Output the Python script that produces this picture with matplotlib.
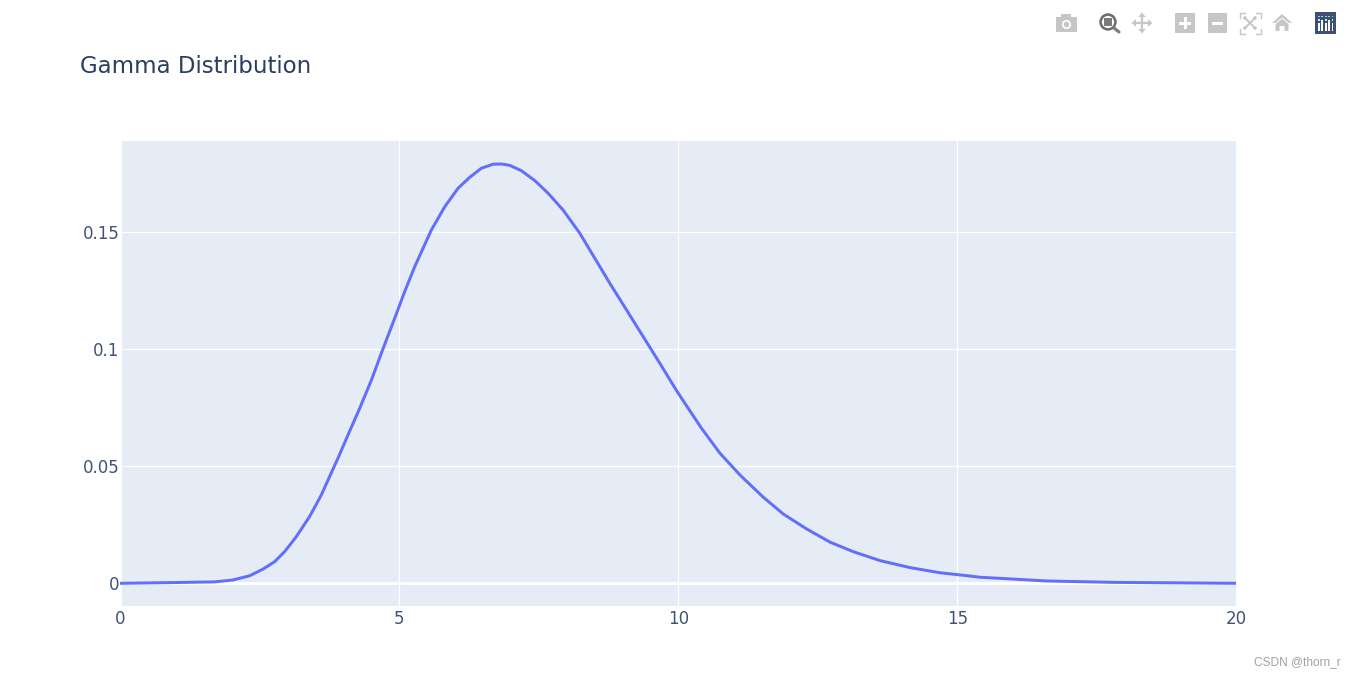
import matplotlib
matplotlib.use("Agg")
import matplotlib.pyplot as plt
from matplotlib.patches import Circle, FancyArrow, Polygon, Rectangle

x_values = [0, 0.9, 1.686, 2.014, 2.314, 2.552, 2.762, 2.942, 3.152, 3.39, 3.6, 3.749, 3.898,
            4.108, 4.287, 4.497, 4.7, 4.915, 5.094, 5.274, 5.573, 5.812, 6.05, 6.26, 6.47, 6.678,
            6.829, 6.978, 7.188, 7.426, 7.665, 7.934, 8.233, 8.502, 8.771, 9.071, 9.369,
            9.668, 9.968, 10.117, 10.416, 10.744, 11.103, 11.521, 11.88, 12.3, 12.717, 13.135,
            13.614, 14.152, 14.691, 15.229, 15.4, 16.6, 17.8, 20]
y_values = [0, 0.0003, 0.0006, 0.0014, 0.0032, 0.006, 0.0092, 0.0135, 0.0199, 0.0285, 0.0377,
            0.0456, 0.0534, 0.065, 0.0747, 0.0868, 0.0998, 0.1132, 0.1246, 0.1353, 0.151, 0.1609,
            0.1688, 0.1735, 0.1774, 0.1791, 0.1792, 0.1786, 0.1763, 0.1721, 0.1667, 0.1595,
            0.1496, 0.1389, 0.1282, 0.1168, 0.1054, 0.094, 0.0823, 0.0769, 0.0662, 0.0556,
            0.0463, 0.0368, 0.0296, 0.0232, 0.0176, 0.0135, 0.0097, 0.0067, 0.0045, 0.0031,
            0.0026, 0.001, 0.0004, 0]
x_ticks = [0, 5, 10, 15, 20]
y_ticks = [0, 0.05, 0.1, 0.15]
y_tick_labels = ["0", "0.05", "0.1", "0.15"]

W, H = 1356, 677
LINE = "#636efa"
TEXT = "#2a3f5f"
ICON = "#c6c6c6"

plt.rcParams["font.family"] = ["DejaVu Sans"]

fig = plt.figure(figsize=(W / 100, H / 100), dpi=100, facecolor="white")
ax = fig.add_axes([120.4 / W, 1 - 606 / H, (1236.4 - 120.4) / W, (606 - 141) / H], facecolor="#e5ecf6")
ax.plot(x_values, y_values, color=LINE, linewidth=2.15, solid_joinstyle="round", zorder=4)
ax.set_xlim(0, 20)
ax.set_ylim(-0.0097, 0.18902)
ax.set_xticks(x_ticks)
ax.set_yticks(y_ticks, y_tick_labels)
ax.grid(color="white", linewidth=0.9, zorder=1)
ax.set_axisbelow(True)
ax.axhline(0, color="white", linewidth=2.0, zorder=2)
ax.axvline(0, color="white", linewidth=2.0, zorder=2, clip_on=False)
ax.tick_params(length=0, labelsize=12, labelcolor="#3f5374", pad=0.5)
ax.tick_params(axis="x", pad=3)
for s in ax.spines.values():
    s.set_visible(False)

fig.text(80 / W, 1 - 73.3 / H, "Gamma Distribution", fontsize=16.5, color=TEXT, va="baseline", ha="left")
fig.text(1341 / W, 1 - 662 / H, "CSDN @thorn_r", fontsize=8.6, color="#a0a0a0", va="center", ha="right",
         family=["Liberation Sans"])

# toolbar, drawn in pixel coords
bar = fig.add_axes([0, 0, 1, 1], facecolor="none")
bar.set_xlim(0, W)
bar.set_ylim(H, 0)
bar.axis("off")

# camera
bar.add_patch(Rectangle((1056, 17), 21, 15, color=ICON, lw=0))
bar.add_patch(Rectangle((1061, 14), 10, 4, color=ICON, lw=0))
bar.add_patch(Circle((1066.5, 24.5), 4.6, color="white", lw=0))
bar.add_patch(Circle((1066.5, 24.5), 2.8, color=ICON, lw=0))

# zoom (active)
bar.plot([1114, 1119], [28, 32], color="#7a7a7a", lw=2.2, solid_capstyle="round")
bar.add_patch(Circle((1108, 22), 7.4, fill=False, ec="#6f6f6f", lw=1.9))
bar.add_patch(Rectangle((1104, 18), 8, 8, color="#7a7a7a", lw=0))

# pan
for dx, dy in [(1, 0), (-1, 0), (0, 1), (0, -1)]:
    bar.add_patch(FancyArrow(1142, 23, dx * 10.5, dy * 10.5, width=2.2, head_width=7.5, head_length=4.5,
                             length_includes_head=True, color=ICON, lw=0))

# zoom in / zoom out
bar.add_patch(Rectangle((1175, 13), 20, 20, color=ICON, lw=0))
bar.add_patch(Rectangle((1179, 21.5), 12, 3, color="white", lw=0))
bar.add_patch(Rectangle((1183.5, 17), 3, 12, color="white", lw=0))
bar.add_patch(Rectangle((1208, 13), 19, 20, color=ICON, lw=0))
bar.add_patch(Rectangle((1212, 21.5), 11, 3, color="white", lw=0))

# autoscale
for cx, sx in [(1239.5, 1), (1260.5, -1)]:
    for cy, sy in [(12.5, 1), (33.5, -1)]:
        bar.plot([cx + sx * 5, cx, cx], [cy, cy, cy + sy * 5], color=ICON, lw=1.0)
bar.plot([1245, 1255], [18, 28], color=ICON, lw=1.4)
bar.plot([1245, 1255], [28, 18], color=ICON, lw=1.4)
for cx, cy in [(1245, 18), (1255, 18), (1245, 28), (1255, 28)]:
    bar.add_patch(Circle((cx, cy), 1.8, color=ICON, lw=0))

# home
bar.add_patch(Polygon([(1272, 23), (1282, 14), (1292, 23), (1289, 23), (1282, 17.5), (1275, 23)], color=ICON, lw=0))
bar.add_patch(Polygon([(1275.5, 24), (1282, 18.8), (1288.5, 24), (1288.5, 31), (1284.5, 31), (1284.5, 26),
                       (1279.5, 26), (1279.5, 31), (1275.5, 31)], color=ICON, lw=0))

# plotly logo
bar.add_patch(Rectangle((1315, 12), 21, 22, color="#3d4f73", lw=0))
for i, top in enumerate([23, 20, 23, 20, 23]):
    px = 1318 + i * 3.4
    bar.add_patch(Rectangle((px, top), 1.7, 31 - top, color="white", lw=0))
    bar.add_patch(Rectangle((px, 15.5), 1.7, 1.7, color="#8fd8d4", lw=0))
    if i % 2 == 0:
        bar.add_patch(Rectangle((px, 19), 1.7, 1.7, color="#c9e6ea", lw=0))

fig.savefig("out.png", dpi=100, facecolor="white")
